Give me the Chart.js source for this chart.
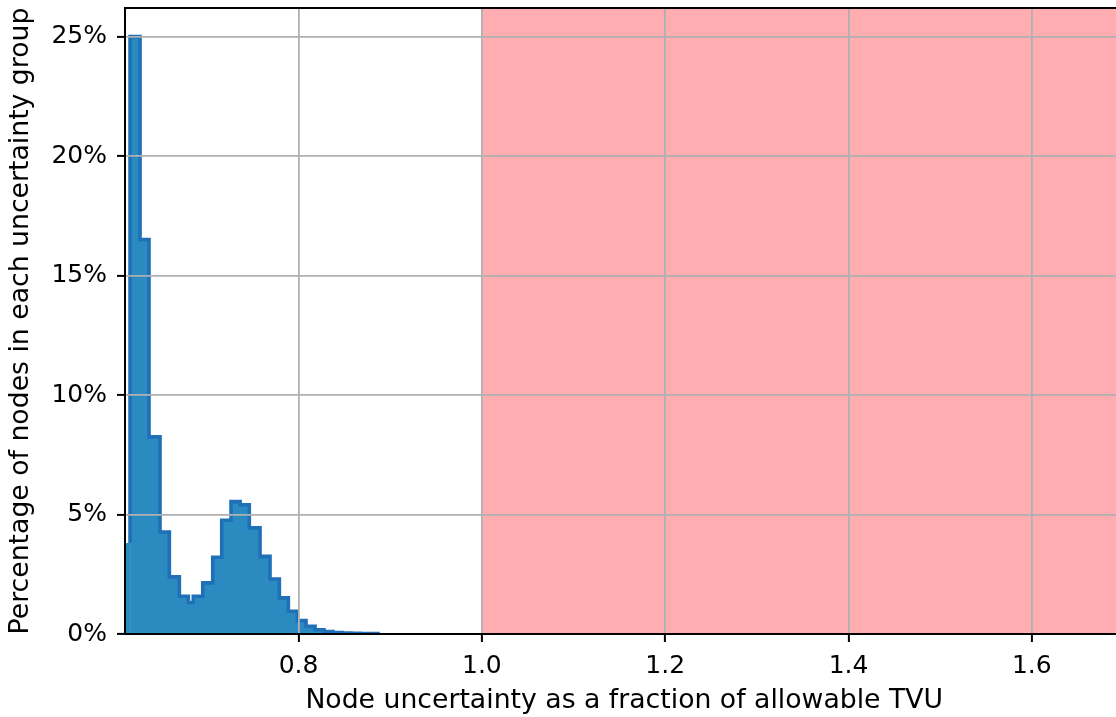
<!DOCTYPE html>
<html><head><meta charset="utf-8">
<script src="https://cdn.jsdelivr.net/npm/chart.js@4"></script>
<style>html,body{margin:0;padding:0;overflow:hidden;background:#fff;width:1116px;height:717px}canvas{display:block}</style>
</head><body><canvas id="c" width="1130" height="717"></canvas>
<script>
// Histogram bin edges (fraction of allowable TVU) and percentage per bin
const binEdges = [0.6062, 0.6162, 0.6271, 0.6369, 0.6489, 0.6591, 0.6700, 0.6798, 0.6852, 0.6955,
  0.7064, 0.7162, 0.7264, 0.7363, 0.7463, 0.7580, 0.7689, 0.7791, 0.7889, 0.7987,
  0.8082, 0.8180, 0.8278, 0.8376, 0.8475, 0.8573, 0.8671, 0.8769, 0.8867];
const binPercents = [3.81, 25.0, 16.51, 8.25, 4.27, 2.39, 1.58, 1.32, 1.58, 2.14,
  3.21, 4.76, 5.54, 5.41, 4.44, 3.25, 2.30, 1.51, 0.95, 0.56,
  0.32, 0.18, 0.10, 0.06, 0.04, 0.03, 0.02, 0.015];
const xTickValues = [0.8, 1.0, 1.2, 1.4, 1.6];
const yTickValues = [0, 5, 10, 15, 20, 25];
const xRange = [0.6107, 1.7];
const yRange = [0, 26.2];
const exceedSpan = [1.0, 2.0];
const xTitle = 'Node uncertainty as a fraction of allowable TVU';
const yTitle = 'Percentage of nodes in each uncertainty group';

const histPoints = [
  {x: binEdges[0], y: 0},
  {x: binEdges[0], y: binPercents[0]},
  {x: binEdges[1], y: binPercents[0]}
];
for (let i = 1; i < binPercents.length; i++) histPoints.push({x: binEdges[i], y: binPercents[i]});
histPoints.push({x: binEdges[binEdges.length - 1], y: 0});

const spanPoints = [{x: exceedSpan[0], y: 100}, {x: exceedSpan[1], y: 100}];

const topBorder = {
  id: 'topBorder',
  afterDraw(chart) {
    const a = chart.chartArea, ctx = chart.ctx;
    ctx.save();
    ctx.strokeStyle = '#000';
    ctx.lineWidth = 2;
    ctx.beginPath();
    ctx.moveTo(a.left - 1, a.top);
    ctx.lineTo(a.right, a.top);
    ctx.stroke();
    ctx.restore();
  }
};

const FONT = 'DejaVu Sans';
new Chart(document.getElementById('c'), {
  type: 'line',
  data: {
    datasets: [
      {
        data: histPoints,
        stepped: true,
        fill: 'origin',
        backgroundColor: '#2b8bc1',
        borderColor: '#1f70b6',
        borderWidth: 3.6,
        borderJoinStyle: 'miter',
        pointRadius: 0,
        order: 1,
        segment: {
          borderColor: ctx => ctx.p0DataIndex < 2 ? 'rgba(0,0,0,0)' : undefined
        }
      },
      {
        data: spanPoints,
        fill: 'origin',
        backgroundColor: '#ffadb0',
        borderWidth: 0,
        pointRadius: 0,
        order: 2
      }
    ]
  },
  options: {
    responsive: false,
    animation: false,
    devicePixelRatio: 1,
    layout: {padding: {left: 0, right: 6.5, top: 8, bottom: 0}},
    plugins: {legend: {display: false}, tooltip: {enabled: false}},
    scales: {
      x: {
        type: 'linear',
        min: xRange[0],
        max: xRange[1],
        afterBuildTicks: s => { s.ticks = xTickValues.map(v => ({value: v})); },
        afterFit: s => { s.height = 83; s.paddingLeft = 0; s.paddingRight = 0; },
        ticks: {
          callback: v => Number(v).toFixed(1),
          font: {family: FONT, size: 25},
          color: '#000',
          padding: 9,
          maxRotation: 0,
          autoSkip: false
        },
        grid: {color: '#b0b0b0', lineWidth: 1.8, tickColor: '#000', tickWidth: 2, tickLength: 8, z: 1},
        border: {color: '#000', width: 2, z: 2},
        title: {display: true, text: xTitle, font: {family: FONT, size: 26.7}, color: '#000', padding: {top: 0, bottom: 0}}
      },
      y: {
        min: yRange[0],
        max: yRange[1],
        afterBuildTicks: s => { s.ticks = yTickValues.map(v => ({value: v})); },
        afterFit: s => { s.width = 125; s.paddingTop = 0; s.paddingBottom = 0; },
        ticks: {
          callback: v => v + '%',
          font: {family: FONT, size: 25},
          color: '#000',
          padding: 10,
          autoSkip: false
        },
        grid: {color: '#b0b0b0', lineWidth: 1.8, tickColor: '#000', tickWidth: 2, tickLength: 8, z: 1},
        border: {color: '#000', width: 2, z: 2},
        title: {display: true, text: yTitle, font: {family: FONT, size: 26.7}, color: '#000', padding: {top: 5, bottom: 0}}
      }
    }
  },
  plugins: [topBorder]
});
</script>
</body></html>
